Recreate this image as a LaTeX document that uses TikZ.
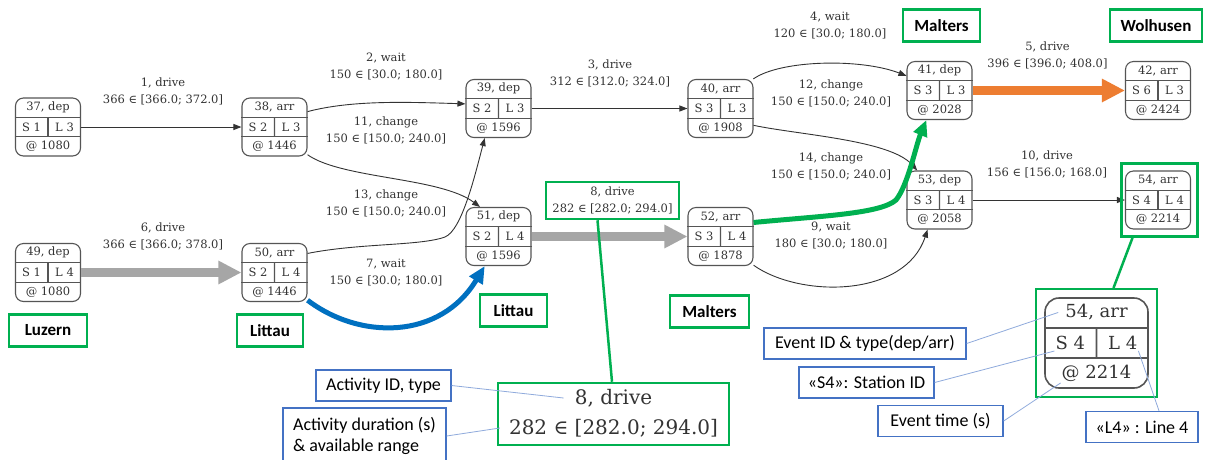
\documentclass[tikz,border=0pt]{standalone}
\usepackage{fontspec}
\usetikzlibrary{arrows.meta, positioning, fit, calc}

\newfontfamily\graphfont{DejaVu Serif}
\newfontfamily\notefont{Carlito}
\newcommand{\evfont}{\graphfont\fontsize{11.5pt}{17pt}\selectfont}
\newcommand{\evbigfont}{\graphfont\fontsize{18pt}{22pt}\selectfont}
\newcommand{\actbigfont}{\graphfont\fontsize{20pt}{24pt}\selectfont}
\newcommand{\stationfont}{\notefont\bfseries\fontsize{17pt}{20pt}\selectfont}
\newcommand{\notetextfont}{\notefont\fontsize{18pt}{21pt}\selectfont}

\definecolor{hlgreen}{HTML}{00B050}
\definecolor{pathblue}{HTML}{0070C0}
\definecolor{pathorange}{HTML}{ED7D31}
\definecolor{pathgray}{HTML}{A6A6A6}
\definecolor{noteblue}{HTML}{4472C4}
\definecolor{notelink}{HTML}{8FAADC}
\definecolor{evgray}{HTML}{555555}
\definecolor{evtext}{HTML}{333333}

% event node: [style prefix]{name}{position}{id, type}{station}{line}{time}
\newcommand{\evnode}[7][ev]{%
    \node[#1box] (#2) at (#3) {};
    \draw[#1rule] ($(#2.north west)!1/3!(#2.south west)$) -- ($(#2.north east)!1/3!(#2.south east)$);
    \draw[#1rule] ($(#2.north west)!2/3!(#2.south west)$) -- ($(#2.north east)!2/3!(#2.south east)$);
    \draw[#1rule] ($(#2.north)!1/3!(#2.south)$) -- ($(#2.north)!2/3!(#2.south)$);
    \node[#1txt] (#2-t) at ($(#2.north)!1/6!(#2.south)$) {#4};
    \node[#1txt] (#2-s) at ($(#2.west)!1/4!(#2.east)$) {S #5};
    \node[#1txt] (#2-l) at ($(#2.west)!3/4!(#2.east)$) {L #6};
    \node[#1txt] (#2-b) at ($(#2.north)!5/6!(#2.south)$) {@ #7};
}

\begin{document}
\begin{tikzpicture}[
    x=1pt, y=-1pt,
    % Node styles
    evbox/.style={
        rectangle, rounded corners=8pt, draw=evgray, line width=1.1pt,
        minimum width=65pt, minimum height=58pt, inner sep=0pt
    },
    evrule/.style={draw=evgray, line width=1.1pt},
    evtxt/.style={font=\evfont, text=evtext, inner sep=1pt},
    evbigbox/.style={
        evbox, rounded corners=14pt, line width=1.6pt,
        minimum width=103pt, minimum height=90pt
    },
    evbigrule/.style={draw=evgray, line width=1.6pt},
    evbigtxt/.style={font=\evbigfont, text=evtext, inner sep=1pt},
    elabel/.style={font=\evfont, text=evtext, align=center, inner sep=1pt},
    station/.style={
        rectangle, draw=hlgreen, line width=2.5pt, font=\stationfont,
        minimum height=32pt, inner sep=0pt
    },
    hlbox/.style={rectangle, draw=hlgreen, line width=2.5pt, inner sep=0pt},
    hlline/.style={draw=hlgreen, line width=2.5pt},
    note/.style={
        rectangle, draw=noteblue, line width=1.3pt, font=\notetextfont,
        align=left, minimum height=31pt, inner sep=0pt
    },
    noteline/.style={draw=notelink, line width=0.8pt},
    % Arrow styles
    flow/.style={-{Triangle[length=8pt,width=6pt]}, draw=black!80, line width=0.9pt},
    drivegray/.style={-{Triangle[length=23pt,width=22pt]}, draw=pathgray, line width=8.5pt},
    driveorange/.style={-{Triangle[length=23pt,width=22pt]}, draw=pathorange, line width=8.5pt},
    waitblue/.style={-{Triangle[length=17pt,width=15pt]}, draw=pathblue, line width=5pt},
    changegreen/.style={-{Triangle[length=16pt,width=14pt]}, draw=hlgreen, line width=5pt}
]

\fill[white] (0,0) rectangle (1215,459);
\useasboundingbox (0,0) rectangle (1215,459);
\clip (0,0) rectangle (1215,459);

% --- Event nodes ---
\evnode{e37}{48,127}{37, dep}{1}{3}{1080}
\evnode{e38}{274.5,127}{38, arr}{2}{3}{1446}
\evnode{e49}{48,272.5}{49, dep}{1}{4}{1080}
\evnode{e50}{274.5,272.5}{50, arr}{2}{4}{1446}
\evnode{e39}{498.5,108.5}{39, dep}{2}{3}{1596}
\evnode{e51}{498.5,236.5}{51, dep}{2}{4}{1596}
\evnode{e40}{720.5,108.5}{40, arr}{3}{3}{1908}
\evnode{e52}{720.5,236.5}{52, arr}{3}{4}{1878}
\evnode{e41}{939.5,90.5}{41, dep}{3}{3}{2028}
\evnode{e53}{939.5,200}{53, dep}{3}{4}{2058}
\evnode{e42}{1158,90.5}{42, arr}{6}{3}{2424}
\evnode{e54}{1158,200}{54, arr}{4}{4}{2214}

% --- Arrows ---
\draw[flow] (e37.east) -- (e38.west);
\draw[drivegray] (e49.east) -- (e50.west);
\draw[flow] (e38.25) .. controls (352,100) and (406,102) .. (e39.172);
\draw[flow] (e38.-40) .. controls (342,179) and (440,177) .. (e51.122);
\draw[flow] (e50.30) .. controls (360,243) and (420,246) .. (445,237)
    .. controls (462,230) and (475,175) .. (e39.-115);
\draw[waitblue] (e50.-40) .. controls (360,340) and (440,340) .. (e51.-115);
\draw[flow] (e39.east) -- (e40.west);
\draw[drivegray] (e51.east) -- (e52.west);
\draw[flow] (e40.42) .. controls (780,60) and (860,58) .. (e41.156);
\draw[flow] (e40.-27) .. controls (800,135) and (890,140) .. (e53.127);
\draw[changegreen] (e52.23) .. controls (820,216) and (880,214) .. (896,200)
    .. controls (908,185) and (916,145) .. (e41.-114);
\draw[flow] (e52.-41) .. controls (800,298) and (905,298) .. (e53.-112);
\draw[driveorange] (e41.east) -- (e42.west);
\draw[flow] (e53.east) -- (e54.west);

% --- Activity labels ---
\node[elabel] (l1) at (163,91.5) {1, drive\\366 ∈ [366.0; 372.0]};
\node[elabel] (l6) at (163,236) {6, drive\\366 ∈ [366.0; 378.0]};
\node[elabel] (l2) at (386,66.5) {2, wait\\150 ∈ [30.0; 180.0]};
\node[elabel] (l11) at (386,130.5) {11, change\\150 ∈ [150.0; 240.0]};
\node[elabel] (l13) at (386,203.5) {13, change\\150 ∈ [150.0; 240.0]};
\node[elabel] (l7) at (386,272.5) {7, wait\\150 ∈ [30.0; 180.0]};
\node[elabel] (l3) at (610,73.5) {3, drive\\312 ∈ [312.0; 324.0]};
\node[elabel, draw=hlgreen, line width=2.5pt, minimum width=133pt, minimum height=37pt]
    (lab8) at (612.5,200.5) {8, drive\\282 ∈ [282.0; 294.0]};
\node[elabel] (l4) at (830,25.5) {4, wait\\120 ∈ [30.0; 180.0]};
\node[elabel] (l12) at (831,93.5) {12, change\\150 ∈ [150.0; 240.0]};
\node[elabel] (l14) at (831,166) {14, change\\150 ∈ [150.0; 240.0]};
\node[elabel] (l9) at (831,235.5) {9, wait\\180 ∈ [30.0; 180.0]};
\node[elabel] (l5) at (1047.5,55) {5, drive\\396 ∈ [396.0; 408.0]};
\node[elabel] (l10) at (1047,164) {10, drive\\156 ∈ [156.0; 168.0]};

% --- Stations ---
\node[station, minimum width=78pt, below=11pt of e49] (luzern) {Luzern};
\node[station, minimum width=66pt, below=11pt of e50, xshift=-4.5pt] (littau1) {Littau};
\node[station, minimum width=67pt, below=27pt of e51, xshift=15pt] (littau2) {Littau};
\node[station, minimum width=79pt, below=28pt of e52, xshift=-11pt] (malters2) {Malters};
\node[station, minimum width=77pt, above=18pt of e41, xshift=2pt] (malters1) {Malters};
\node[station, minimum width=92pt, above=18pt of e42, xshift=-2pt] (wolhusen) {Wolhusen};

% --- Legend: activity ---
\node[hlbox, minimum width=231pt, minimum height=62pt] (big8) at (613.5,414) {};
\node[font=\actbigfont, text=evtext, inner sep=1pt] (big8-t) at (613.5,398) {8, drive};
\node[font=\actbigfont, text=evtext, inner sep=1pt] (big8-b) at (613.5,428) {282 ∈ [282.0; 294.0]};
\draw[hlline] ([xshift=-15pt]lab8.south) -- ([xshift=-1.5pt]big8.north);

\node[note, minimum width=135pt] (actid) at (383.5,385.5) {Activity ID, type};
\node[note, minimum width=163pt, minimum height=56pt] (actdur) at (364.5,436)
    {Activity duration (s)\\\& available range};
\draw[noteline] (actid.east) -- ([xshift=-10pt]big8-t.west);
\draw[noteline] (actdur.east) -- ([xshift=-8pt]big8-b.west);

% --- Legend: event ---
\node[hlbox, fit=(e54), inner xsep=5pt, inner ysep=7pt, xshift=1.5pt] (hl54) {};
\evnode[evbig]{e54big}{1096.5,343}{54, arr}{4}{4}{2214}
\node[hlbox, fit=(e54big), inner sep=8pt] (hlbig) {};
\draw[hlline] ([xshift=-27pt]hl54.south) -- ([xshift=17pt]hlbig.north);

\node[note, minimum width=202pt] (evid) at (865,343.5) {Event ID \& type(dep/arr)};
\node[note, minimum width=135pt] (stid) at (866.5,382.5) {«S4»: Station ID};
\node[note, minimum width=125pt] (evtime) at (940.5,421) {Event time (s)};
\node[note, minimum width=112pt] (linenote) at (1142,427) {«L4» : Line 4};
\draw[noteline] (evid.east) -- ([xshift=-6pt]e54big-t.west);
\draw[noteline] (stid.east) -- (e54big-s.south west);
\draw[noteline] (evtime.east) -- (e54big-b.south west);
\draw[noteline] ([xshift=17pt]linenote.north) -- (e54big-l.south east);

\end{tikzpicture}
\end{document}
